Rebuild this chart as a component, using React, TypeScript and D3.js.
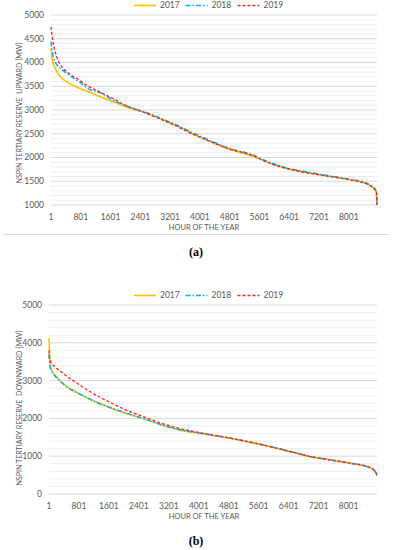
import { useEffect, useRef } from 'react';
import * as d3 from 'd3';

// hours of the year at which the duration curves were read
const hoursUp = [1, 30, 60, 150, 250, 470, 740, 1000, 1360, 1630, 2080, 2530, 2980, 3290, 3870, 4300, 4800, 5350, 5900, 6250, 6450, 7000, 7500, 8050, 8400, 8620, 8740, 8760];
const up2017 = [4300, 4080, 3990, 3820, 3705, 3570, 3465, 3385, 3270, 3187, 3050, 2945, 2805, 2700, 2480, 2330, 2170, 2050, 1880, 1790, 1750, 1665, 1600, 1525, 1470, 1385, 1280, 1000];
const up2018 = [4440, 4250, 4130, 3960, 3880, 3745, 3605, 3450, 3350, 3225, 3070, 2955, 2815, 2715, 2500, 2350, 2190, 2075, 1890, 1800, 1760, 1680, 1610, 1540, 1480, 1395, 1290, 1000];
const up2019 = [4750, 4560, 4410, 4130, 3960, 3780, 3640, 3500, 3360, 3255, 3070, 2940, 2795, 2690, 2470, 2330, 2180, 2060, 1870, 1780, 1745, 1660, 1600, 1530, 1470, 1390, 1285, 1000];

const hoursDown = [1, 20, 60, 160, 430, 790, 1230, 1680, 2120, 2570, 3010, 3500, 4040, 4840, 5910, 6450, 6980, 7510, 8050, 8500, 8670, 8745, 8760];
const down2017 = [4120, 3600, 3300, 3150, 2880, 2665, 2445, 2265, 2115, 1975, 1825, 1690, 1600, 1470, 1250, 1120, 985, 900, 810, 720, 635, 540, 470];
const down2018 = [3700, 3450, 3260, 3130, 2870, 2660, 2445, 2270, 2120, 1980, 1830, 1700, 1610, 1480, 1255, 1125, 990, 900, 815, 725, 640, 530, 470];
const down2019 = [3800, 3600, 3470, 3370, 3150, 2905, 2630, 2400, 2195, 2030, 1870, 1730, 1620, 1480, 1255, 1120, 990, 905, 815, 725, 640, 530, 470];

const years = ['2017', '2018', '2019'];
const xTicks = [1, 801, 1601, 2401, 3201, 4001, 4801, 5601, 6401, 7201, 8001];

const colors = ['#FFC000', '#00B0F0', '#FF2020'];
const dashes = [null, '5,2,1.5,2', '3,2'];
const widths = [1.6, 1.5, 1.3];
const grey = '#595959';
const font = 'Lato, "Open Sans", sans-serif';

const drawPanel = (svg, p) => {
  const x = d3.scaleLinear().domain([1, 8760]).range([p.left, p.right]);
  const y = d3.scaleLinear().domain([p.yMin, p.yMax]).range([p.bottom, p.top]);
  const g = svg.append('g');

  // minor then major gridlines
  g.selectAll('line.minor')
    .data(d3.range(p.yMin, p.yMax + 1, p.minor).filter(v => (v - p.yMin) % p.major !== 0))
    .join('line')
    .attr('x1', p.left).attr('x2', p.right)
    .attr('y1', d => y(d)).attr('y2', d => y(d))
    .attr('stroke', '#EEEEEE').attr('stroke-width', 1);

  const majors = d3.range(p.yMin, p.yMax + 1, p.major);
  g.selectAll('line.major')
    .data(majors)
    .join('line')
    .attr('x1', p.left).attr('x2', p.right)
    .attr('y1', d => y(d)).attr('y2', d => y(d))
    .attr('stroke', '#D9D9D9').attr('stroke-width', 1);

  g.selectAll('text.ylab')
    .data(majors)
    .join('text')
    .attr('x', p.left - 7)
    .attr('y', d => y(d))
    .attr('dy', '0.35em')
    .attr('text-anchor', 'end')
    .attr('font-size', 8.5)
    .attr('fill', grey)
    .text(d => d);

  g.selectAll('text.xlab')
    .data(xTicks)
    .join('text')
    .attr('x', d => x(d))
    .attr('y', p.bottom + 12)
    .attr('dy', '0.35em')
    .attr('text-anchor', 'middle')
    .attr('font-size', 8.5)
    .attr('fill', grey)
    .text(d => d);

  g.append('text')
    .attr('x', 204)
    .attr('y', p.bottom + 22.5)
    .attr('dy', '0.35em')
    .attr('text-anchor', 'middle')
    .attr('font-size', 7.5)
    .attr('fill', grey)
    .text('HOUR OF THE YEAR');

  g.append('text')
    .attr('transform', `translate(19.5, ${p.titleY}) rotate(-90)`)
    .attr('dy', '0.35em')
    .attr('text-anchor', 'middle')
    .attr('font-size', 7.1)
    .attr('fill', grey)
    .style('white-space', 'pre')
    .text(p.yTitle);

  const line = d3.line()
    .x(d => x(d[0]))
    .y(d => y(d[1]))
    .curve(d3.curveMonotoneX);

  p.series.forEach((vals, i) => {
    g.append('path')
      .attr('d', line(p.hours.map((h, j) => [h, vals[j]])))
      .attr('fill', 'none')
      .attr('stroke', colors[i])
      .attr('stroke-width', widths[i])
      .attr('stroke-dasharray', dashes[i]);
  });

  // legend
  const lx = [134, 185.5, 237.5];
  const ly = p.top - 9.5;
  years.forEach((yr, i) => {
    g.append('line')
      .attr('x1', lx[i]).attr('x2', lx[i] + 22)
      .attr('y1', ly).attr('y2', ly)
      .attr('stroke', colors[i])
      .attr('stroke-width', widths[i])
      .attr('stroke-dasharray', dashes[i]);
    g.append('text')
      .attr('x', lx[i] + 26)
      .attr('y', ly)
      .attr('dy', '0.35em')
      .attr('font-size', 8.5)
      .attr('fill', grey)
      .text(yr);
  });

  g.append('text')
    .attr('x', 196)
    .attr('y', p.bottom + 47)
    .attr('dy', '0.35em')
    .attr('text-anchor', 'middle')
    .attr('font-family', '"Liberation Serif", serif')
    .attr('font-weight', 'bold')
    .attr('font-size', 12)
    .attr('fill', '#000')
    .text(p.caption);
};

const App = () => {
  const svgRef = useRef();

  useEffect(() => {
    const svg = d3.select(svgRef.current);
    svg.selectAll('*').remove();
    svg.attr('font-family', font);

    drawPanel(svg, {
      left: 51, right: 377, top: 15, bottom: 205, titleY: 113,
      yMin: 1000, yMax: 5000, major: 500, minor: 100,
      hours: hoursUp, series: [up2017, up2018, up2019],
      yTitle: 'NSPIN TERTIARY RESERVE  UPWARD [MW]', caption: '(a)'
    });

    svg.append('line')
      .attr('x1', 4).attr('x2', 389)
      .attr('y1', 234.5).attr('y2', 234.5)
      .attr('stroke', '#D9D9D9').attr('stroke-width', 1);

    drawPanel(svg, {
      left: 49, right: 377, top: 305, bottom: 494, titleY: 408,
      yMin: 0, yMax: 5000, major: 1000, minor: 200,
      hours: hoursDown, series: [down2017, down2018, down2019],
      yTitle: 'NSPIN TERTIARY RESERVE  DOWNWARD [MW]', caption: '(b)'
    });
  }, []);

  return (
    <div style={{ position: 'absolute', left: 0, top: 0 }}>
      <svg ref={svgRef} width={393} height={550} style={{ display: 'block' }}></svg>
    </div>
  );
};

export default App;
